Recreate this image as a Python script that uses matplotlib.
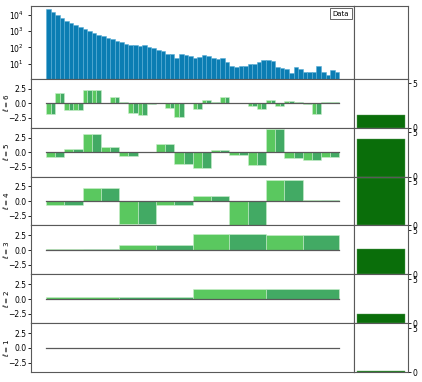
import matplotlib
matplotlib.use("Agg")
import matplotlib.pyplot as plt
import numpy as np

# ---------------- data ----------------
hist_counts = [22000, 14600, 9600, 6300, 4500, 3250, 2340, 1780, 1400, 1000,
               790, 575, 500, 400, 333, 237, 215, 170, 148, 148,
               123, 142, 112, 94, 66, 58, 42, 42, 23, 38,
               36, 31.6, 24, 27.5, 36, 29, 22, 20, 21, 13,
               7.4, 6.4, 7.4, 6.8, 9.3, 10.2, 13.5, 16, 17, 14,
               6.2, 5.1, 4.4, 2.6, 5.9, 4.6, 2.9, 2.9, 2.9, 6.8,
               2.9, 1.9, 3.9, 2.9]

coef_l6 = [-1.84, 1.72, -1.15, -1.2, 2.18, 2.3, 0.0, 1.09, 0.17, -1.6,
           -2.0, -0.2, -0.03, -0.75, -2.3, 0.1, -1.0, 0.63, 0.15, 1.15,
           0.0, 0.0, -0.45, -1.0, 0.63, -0.45, 0.45, 0.15, -0.1, -1.8,
           0.28, 0.28]
coef_l5 = [-0.9, 0.62, 3.1, 0.84, -0.73, 0.0, 1.35, -1.97, -2.7, 0.34,
           -0.56, -2.2, 3.9, -1.0, -1.3, -0.84]
coef_l4 = [-0.58, 2.2, -3.95, -0.7, 0.81, -4.07, 3.55, 0.17]
coef_l3 = [0.25, 0.88, 2.77, 2.65]
coef_l2 = [0.3, 1.65]
coef_l1 = [-0.08]

levels = [6, 5, 4, 3, 2, 1]
coefs = [coef_l6, coef_l5, coef_l4, coef_l3, coef_l2, coef_l1]
level_power = [1.43, 4.28, 5.35, 2.87, 1.06, 0.15]

legend_label = "Data"
left_yticks = [-2.5, 0.0, 2.5]
right_yticks = [0, 5]

# ---------------- style ----------------
hist_color = "#0b7db3"
hist_edge = "#5aaed6"
light_green = "#5ac85f"
dark_green = "#42aa64"
bar_green = "#0a6e0a"
spine_col = "0.35"
fs = 5.5

fig = plt.figure(figsize=(4.22, 3.82), dpi=100)
gs = fig.add_gridspec(7, 2, width_ratios=[323, 54],
                      height_ratios=[73] + [49] * 6,
                      left=0.0742, right=0.9668, top=0.985, bottom=0.0254,
                      hspace=0, wspace=0)

nbins = len(hist_counts)
xlim = (-0.05 * nbins, nbins * 1.05)


def style_spines(ax):
    for s in ax.spines.values():
        s.set_color(spine_col)
        s.set_linewidth(0.8)


# histogram
ax_h = fig.add_subplot(gs[0, 0])
ax_h.bar(np.arange(nbins), hist_counts, width=1.0, align="edge",
         color=hist_color, edgecolor=hist_edge, linewidth=0.4)
ax_h.set_yscale("log")
ax_h.set_ylim(1.2, 3.7e4)
ax_h.set_xlim(*xlim)
ax_h.set_yticks([10, 100, 1000, 10000])
ax_h.yaxis.set_minor_locator(matplotlib.ticker.NullLocator())
ax_h.set_xticks([])
ax_h.tick_params(labelsize=fs, length=2, width=0.6)
ax_h.text(0.985, 0.93, legend_label, transform=ax_h.transAxes, ha="right",
          va="top", fontsize=fs - 0.5,
          bbox=dict(boxstyle="square,pad=0.35", fc="white", ec="0.3", lw=0.6))
style_spines(ax_h)

ax_hr = fig.add_subplot(gs[0, 1])
ax_hr.set_xticks([])
ax_hr.set_yticks([])
style_spines(ax_hr)

for i, (lev, c, pw) in enumerate(zip(levels, coefs, level_power)):
    ax = fig.add_subplot(gs[i + 1, 0])
    n = len(c)
    span = nbins / n
    half = span / 2
    starts = np.arange(n) * span
    ax.bar(starts, c, width=half, align="edge", color=light_green,
           edgecolor="#c9efcb", linewidth=0.4)
    ax.bar(starts + half, c, width=half, align="edge", color=dark_green,
           edgecolor="#c9efcb", linewidth=0.4)
    ax.plot([0, nbins], [0, 0], color="0.35", lw=0.9)
    ax.set_xlim(*xlim)
    ax.set_ylim(-4.15, 4.2)
    ax.set_xticks([])
    ax.set_yticks(left_yticks)
    ax.tick_params(labelsize=fs, length=2, width=0.6, pad=1.5)
    ax.set_ylabel(r"$\ell = %d$" % lev, fontsize=5.2)
    ax.yaxis.set_label_coords(-0.062, 0.5)
    style_spines(ax)

    axr = fig.add_subplot(gs[i + 1, 1])
    axr.bar([0], [pw], width=0.9, color=bar_green, edgecolor="#5a9a5a",
            linewidth=0.3)
    axr.set_xlim(-0.5, 0.5)
    axr.set_ylim(0, 5.55)
    axr.set_xticks([])
    axr.yaxis.tick_right()
    axr.set_yticks(right_yticks)
    axr.tick_params(labelsize=fs, length=2, width=0.6, pad=1)
    style_spines(axr)

fig.savefig("out.png", dpi=100)
